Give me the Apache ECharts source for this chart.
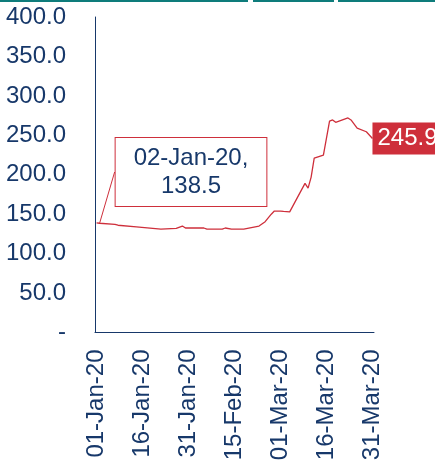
<!DOCTYPE html>
<html>
<head>
<meta charset="utf-8">
<script src="https://cdn.jsdelivr.net/npm/echarts@6/dist/echarts.min.js"></script>
<style>html,body{margin:0;padding:0;background:#fff;}#c{width:435px;height:470px;}</style>
</head>
<body>
<div id="c"></div>
<script>
const obsDates = ['01-Jan-20','02-Jan-20','07-Jan-20','08-Jan-20','14-Jan-20','22-Jan-20','27-Jan-20','29-Jan-20','30-Jan-20','01-Feb-20','05-Feb-20','06-Feb-20','11-Feb-20','12-Feb-20','14-Feb-20','18-Feb-20','23-Feb-20','25-Feb-20','27-Feb-20','28-Feb-20','01-Mar-20','02-Mar-20','04-Mar-20','09-Mar-20','10-Mar-20','11-Mar-20','12-Mar-20','15-Mar-20','17-Mar-20','18-Mar-20','19-Mar-20','23-Mar-20','24-Mar-20','26-Mar-20','29-Mar-20','31-Mar-20'];
const obsValues = [139.0,138.5,137.0,136.0,134.0,131.0,132.0,135.0,132.5,132.5,132.5,131.0,131.0,132.5,131.0,131.0,135.0,140.5,150.0,154.0,154.0,153.5,153.0,189.0,183.0,197.0,221.0,225.0,268.0,269.5,266.5,272.0,269.5,259.0,254.5,245.9];
const yTicks = [0,50,100,150,200,250,300,350,400];
const calloutDate = '02-Jan-20';

// Calendar categories 01-Jan-20 .. 31-Mar-20
const months = ['Jan','Feb','Mar'];
const monthDays = [31,29,31];
const categories = [];
months.forEach((m, i) => {
  for (let d = 1; d <= monthDays[i]; d++) {
    categories.push((d < 10 ? '0' + d : '' + d) + '-' + m + '-20');
  }
});
const seriesData = categories.map(c => {
  const k = obsDates.indexOf(c);
  return k >= 0 ? obsValues[k] : null;
});
const lastIdx = categories.indexOf(obsDates[obsDates.length - 1]);
const calloutIdx = categories.indexOf(calloutDate);

const navy = '#17386A';
const red = '#CE2F3B';
const font = '"Liberation Sans", Arial, sans-serif';

const data = seriesData.map((v, i) => {
  if (i === lastIdx) {
    return {value: v, label: {show: true, position: 'right', distance: 0,
      formatter: p => p.value.toFixed(1), color: '#fff', backgroundColor: red,
      fontSize: 24, fontFamily: font, padding: [4, 5, 3, 5], lineHeight: 25}};
  }
  if (i === calloutIdx) {
    return {value: v, label: {show: true, position: 'top',
      formatter: p => p.name + ',\n' + p.value.toFixed(1), color: navy,
      backgroundColor: '#fff', borderColor: red, borderWidth: 1,
      fontSize: 24, fontFamily: font, lineHeight: 28, padding: [6, 18, 6, 18], align: 'center'},
      labelLine: {show: true, lineStyle: {color: red, width: 1}}};
  }
  return v;
});

const chart = echarts.init(document.getElementById('c'), null, {renderer: 'canvas'});
chart.setOption({
  animation: false,
  backgroundColor: '#fff',
  graphic: [
    {type: 'rect', shape: {x: 0, y: 0, width: 248, height: 2}, style: {fill: '#0E7C7B'}},
    {type: 'rect', shape: {x: 253, y: 0, width: 81, height: 2}, style: {fill: '#0E7C7B'}},
    {type: 'rect', shape: {x: 338, y: 0, width: 97, height: 2}, style: {fill: '#0E7C7B'}}
  ],
  grid: {left: 95, right: 61, top: 17, bottom: 137.5, containLabel: false},
  xAxis: {
    type: 'category',
    data: categories,
    boundaryGap: true,
    axisLine: {lineStyle: {color: navy, width: 1}},
    axisTick: {show: false},
    axisLabel: {interval: 14, rotate: 90, color: navy, fontSize: 24, fontFamily: font, margin: 17}
  },
  yAxis: {
    type: 'value',
    min: yTicks[0], max: yTicks[yTicks.length - 1], interval: yTicks[1] - yTicks[0],
    axisLine: {show: true, lineStyle: {color: navy, width: 1}},
    axisTick: {show: false},
    splitLine: {show: false},
    axisLabel: {color: navy, fontSize: 24, fontFamily: font, margin: 29,
      formatter: v => v === 0 ? '-' : v.toFixed(1)}
  },
  series: [{
    type: 'line',
    data: data,
    connectNulls: true,
    showSymbol: true,
    showAllSymbol: true,
    symbol: 'circle',
    symbolSize: 0,
    lineStyle: {color: red, width: 1.3},
    itemStyle: {color: red},
    labelLayout: p => p.dataIndex === calloutIdx
      ? {x: 191, y: 172, align: 'center', verticalAlign: 'middle'}
      : {},
    z: 3
  }]
});
</script>
</body>
</html>
